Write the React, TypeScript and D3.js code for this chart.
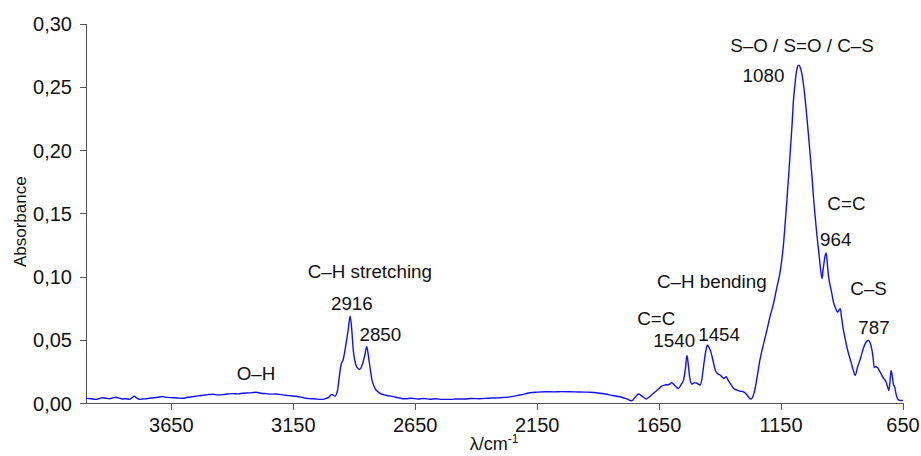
import React, { useEffect } from 'react';
import * as d3 from 'd3';

// Spectrum: wavenumber (cm-1) and absorbance
const wavenumbers = [
  4000, 3980, 3959, 3945, 3932, 3918, 3904, 3890, 3877, 3863, 3850, 3836, 3822, 3812, 3802, 3792, 3781, 3768, 3754, 3740,
  3727, 3706, 3686, 3665, 3645, 3625, 3604, 3583, 3562, 3542, 3521, 3500, 3480, 3460, 3439, 3418, 3398, 3377, 3357, 3330,
  3303, 3283, 3262, 3241, 3221, 3200, 3180, 3160, 3139, 3118, 3098, 3077, 3057, 3040, 3029, 3015, 3005, 2992, 2980, 2968,
  2962, 2955, 2945, 2934, 2925, 2917, 2911, 2904, 2890, 2879, 2865, 2856, 2849, 2843, 2838, 2828, 2815, 2794, 2770, 2740,
  2712, 2690, 2665, 2640, 2615, 2590, 2565, 2540, 2507, 2480, 2450, 2420, 2384, 2350, 2320, 2302, 2270, 2240, 2220, 2200,
  2179, 2150, 2117, 2080, 2050, 2015, 1980, 1955, 1933, 1900, 1871, 1840, 1810, 1785, 1762, 1748, 1735, 1720, 1703, 1688,
  1673, 1655, 1639, 1625, 1610, 1598, 1585, 1571, 1560, 1550, 1542, 1536, 1530, 1525, 1516, 1505, 1495, 1482, 1474, 1468,
  1460, 1452, 1445, 1438, 1428, 1420, 1410, 1400, 1385, 1375, 1367, 1359, 1345, 1331, 1318, 1304, 1290, 1276, 1268, 1258,
  1248, 1237, 1222, 1208, 1195, 1181, 1167, 1153, 1146, 1140, 1133, 1126, 1119, 1112, 1105, 1099, 1093, 1088, 1083, 1078,
  1072, 1065, 1058, 1051, 1044, 1037, 1030, 1023, 1017, 1010, 1003, 996, 989, 982, 978, 970, 965, 960, 955, 951,
  943, 935, 926, 918, 912, 907, 902, 896, 888, 880, 872, 863, 855, 846, 836, 825, 815, 805, 797, 791,
  785, 777, 772, 768, 761, 754, 747, 740, 730, 719, 713, 708, 703, 699, 695, 690, 684, 678, 672, 665,
  658, 650,
];
const absorbance = [
  0.0041, 0.0037, 0.0033, 0.0040, 0.0046, 0.0041, 0.0038, 0.0044, 0.0049, 0.0042, 0.0036, 0.0038, 0.0033, 0.0045, 0.0057, 0.0043, 0.0033, 0.0036, 0.0038, 0.0042,
  0.0044, 0.0049, 0.0054, 0.0048, 0.0046, 0.0044, 0.0041, 0.0049, 0.0054, 0.0060, 0.0065, 0.0070, 0.0073, 0.0068, 0.0070, 0.0075, 0.0078, 0.0076, 0.0081, 0.0084,
  0.0089, 0.0081, 0.0078, 0.0074, 0.0075, 0.0070, 0.0065, 0.0061, 0.0057, 0.0050, 0.0041, 0.0038, 0.0036, 0.0033, 0.0033, 0.0040, 0.0048, 0.0072, 0.0058, 0.0110,
  0.0200, 0.0300, 0.0350, 0.0470, 0.0580, 0.0690, 0.0600, 0.0420, 0.0290, 0.0270, 0.0320, 0.0390, 0.0450, 0.0390, 0.0320, 0.0190, 0.0120, 0.0080, 0.0065, 0.0054,
  0.0042, 0.0038, 0.0041, 0.0036, 0.0039, 0.0034, 0.0037, 0.0033, 0.0033, 0.0036, 0.0035, 0.0039, 0.0038, 0.0042, 0.0044, 0.0046, 0.0050, 0.0060, 0.0067, 0.0076,
  0.0085, 0.0090, 0.0093, 0.0092, 0.0094, 0.0093, 0.0091, 0.0090, 0.0089, 0.0083, 0.0075, 0.0063, 0.0053, 0.0038, 0.0022, 0.0050, 0.0075, 0.0058, 0.0036, 0.0055,
  0.0081, 0.0110, 0.0138, 0.0146, 0.0150, 0.0164, 0.0140, 0.0119, 0.0150, 0.0185, 0.0280, 0.0379, 0.0300, 0.0212, 0.0154, 0.0165, 0.0160, 0.0146, 0.0200, 0.0290,
  0.0400, 0.0462, 0.0440, 0.0410, 0.0330, 0.0265, 0.0235, 0.0225, 0.0200, 0.0212, 0.0185, 0.0160, 0.0120, 0.0106, 0.0098, 0.0092, 0.0070, 0.0035, 0.0045, 0.0106,
  0.0210, 0.0340, 0.0470, 0.0580, 0.0690, 0.0790, 0.0920, 0.1050, 0.1150, 0.1260, 0.1430, 0.1610, 0.1800, 0.2000, 0.2200, 0.2400, 0.2520, 0.2610, 0.2660, 0.2675,
  0.2660, 0.2610, 0.2520, 0.2400, 0.2260, 0.2110, 0.1950, 0.1790, 0.1630, 0.1475, 0.1330, 0.1210, 0.1080, 0.0987, 0.1050, 0.1160, 0.1190, 0.1100, 0.1000, 0.0955,
  0.0880, 0.0800, 0.0750, 0.0723, 0.0740, 0.0750, 0.0680, 0.0600, 0.0520, 0.0445, 0.0385, 0.0327, 0.0270, 0.0222, 0.0290, 0.0354, 0.0420, 0.0473, 0.0495, 0.0499,
  0.0480, 0.0420, 0.0350, 0.0287, 0.0290, 0.0282, 0.0260, 0.0235, 0.0200, 0.0169, 0.0130, 0.0103, 0.0180, 0.0261, 0.0230, 0.0160, 0.0129, 0.0070, 0.0037, 0.0026,
  0.0024, 0.0024,
];

const xTicks = [3650, 3150, 2650, 2150, 1650, 1150, 650];
const yTicks = [0, 0.05, 0.1, 0.15, 0.2, 0.25, 0.3];

// Annotations anchored in data coordinates (wavenumber, absorbance of text baseline)
const annotationTexts = ['O–H', 'C–H stretching', '2916', '2850', 'C–H bending', 'C=C', '1540', '1454', 'S–O / S=O / C–S', '1080', 'C=C', '964', 'C–S', '787'];
const annotationW = [3303, 2836, 2910, 2793, 1434, 1662, 1588, 1404, 1064, 1222, 882, 926, 791, 769];
const annotationA = [0.0186, 0.099, 0.0739, 0.0497, 0.0916, 0.0621, 0.0444, 0.0494, 0.2782, 0.2545, 0.153, 0.1245, 0.0858, 0.055];

const W = 921;
const H = 456;
const FONT = '"Liberation Sans", Arial, Helvetica, sans-serif';

export default function App() {
  useEffect(() => {
    document.body.style.margin = '0';
  }, []);

  const x = d3.scaleLinear().domain([4000, 650]).range([86, 903]);
  const y = d3.scaleLinear().domain([0, 0.3]).range([403.5, 24]);

  const data = wavenumbers.map((w, i) => [w, absorbance[i]] as [number, number]);
  const line = d3
    .line<[number, number]>()
    .x((d) => x(d[0]))
    .y((d) => y(d[1]))
    .curve(d3.curveMonotoneX);

  const fmt = (v: number) => d3.format('.2f')(v).replace('.', ',');
  const axisColor = '#555';

  return (
    <svg width={W} height={H} style={{ position: 'absolute', left: 0, top: 0, background: '#fff' }} fontFamily={FONT}>
      <rect x={0} y={0} width={W} height={H} fill="#fff" />
      {/* Y axis */}
      <line x1={x(4000)} x2={x(4000)} y1={y(0.3)} y2={y(0)} stroke={axisColor} strokeWidth={1} shapeRendering="crispEdges" />
      {yTicks.map((t) => (
        <g key={'y' + t}>
          <line x1={x(4000) - 6} x2={x(4000)} y1={y(t)} y2={y(t)} stroke={axisColor} strokeWidth={1} shapeRendering="crispEdges" />
          <text x={72} y={y(t) + 7} textAnchor="end" fontSize={20} fill="#111">
            {fmt(t)}
          </text>
        </g>
      ))}
      {/* X axis */}
      <line x1={x(4000)} x2={x(650) + 1} y1={y(0)} y2={y(0)} stroke={axisColor} strokeWidth={1} shapeRendering="crispEdges" />
      {xTicks.map((t) => (
        <g key={'x' + t}>
          <line x1={x(t)} x2={x(t)} y1={y(0)} y2={y(0) + 6} stroke={axisColor} strokeWidth={1} shapeRendering="crispEdges" />
          <text x={x(t)} y={432} textAnchor="middle" fontSize={20} fill="#111">
            {t}
          </text>
        </g>
      ))}
      {/* Axis titles */}
      <text transform={`translate(26,${(y(0) + y(0.3)) / 2 + 8}) rotate(-90)`} textAnchor="middle" fontSize={17} fill="#111">
        Absorbance
      </text>
      <text x={494} y={450} textAnchor="middle" fontSize={18} fill="#111">
        λ/cm<tspan dy={-7} fontSize={12}>-1</tspan>
      </text>
      {/* Spectrum */}
      <path d={line(data) || ''} fill="none" stroke="#1010f5" strokeWidth={1.4} strokeLinejoin="round" />
      {/* Annotations */}
      {annotationTexts.map((t, i) => (
        <text key={'a' + i} x={x(annotationW[i])} y={y(annotationA[i])} textAnchor="middle" fontSize={18.8} fill="#111">
          {t}
        </text>
      ))}
    </svg>
  );
}
